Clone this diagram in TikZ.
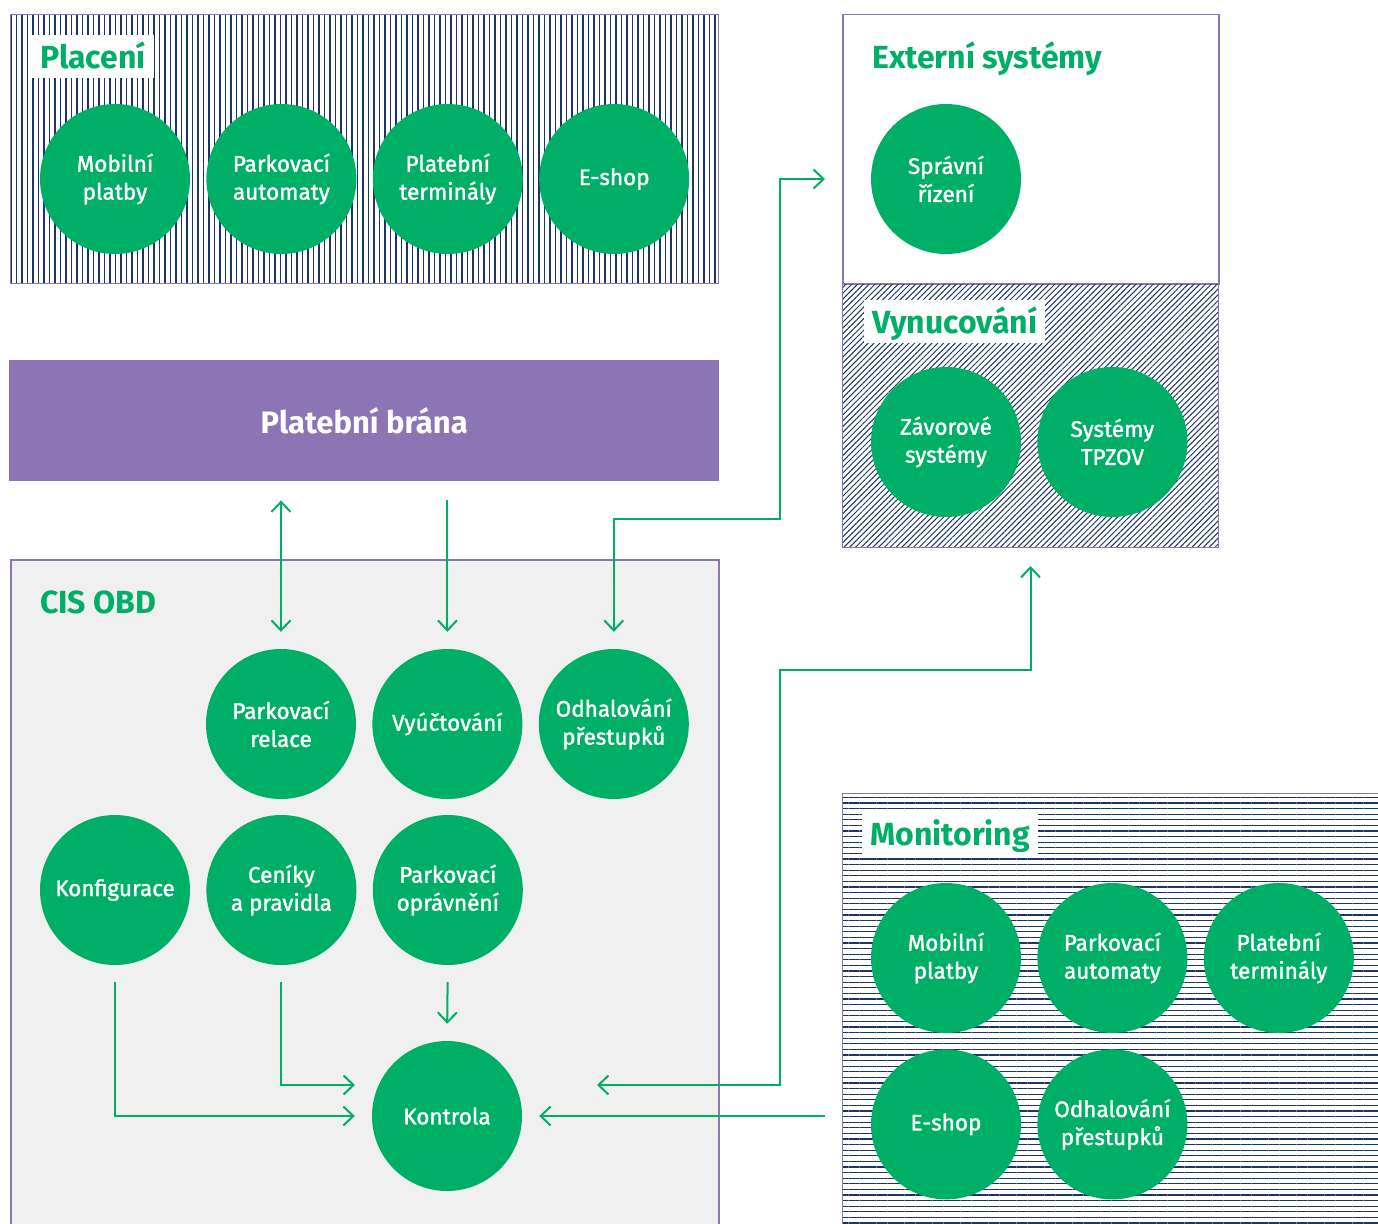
\documentclass[tikz,border=0pt]{standalone}
\usepackage{fontspec}
\setmainfont{Fira Sans}
\newfontfamily\circfont{Fira Sans}[FakeBold=1.5]
\usetikzlibrary{arrows.meta,positioning,patterns.meta}
\definecolor{obdgreen}{HTML}{00AF66}
\definecolor{obdpurple}{HTML}{8B75B5}
\definecolor{obdgray}{HTML}{F0F0F0}
\definecolor{obdnavy}{HTML}{1B3566}

\begin{document}
\begin{tikzpicture}[x=1pt,y=-1pt,>={Straight Barb[length=10pt,width=19pt]},
		circ node/.style={circle,fill=obdgreen,text=white,minimum size=150pt,inner sep=0pt,
			align=center,font=\circfont\fontsize{22.5}{28}\selectfont},
		box node/.style={rectangle,draw=obdpurple,line width=1.5pt,anchor=north west,inner sep=0pt},
		title node/.style={anchor=base west,text=obdgreen,font=\fontsize{32}{36}\selectfont\bfseries,
			inner xsep=8pt,inner ysep=2pt,text height=31pt,text depth=8pt},
		link/.style={draw=obdgreen,line width=2pt}]
	\useasboundingbox (0,0) rectangle (1378,1223);
	%
	% Boxes of the groups.
	\node[box node,minimum width=708pt,minimum height=269pt,
		pattern={Lines[angle=90,distance=5.5pt,line width=1.1pt]},pattern color=obdnavy] (100) at (10,14) {};
	\node[rectangle,fill=obdpurple,anchor=north west,inner sep=0pt,minimum width=710pt,minimum height=121pt,
		text=white,font=\fontsize{31}{36}\selectfont\bfseries] (101) at (9,360) {Platební brána};
	\node[box node,fill=obdgray,minimum width=708pt,minimum height=700pt] (102) at (10,559) {};
	\node[box node,fill=white,minimum width=376pt,minimum height=269pt] (103) at (842,14) {};
	\node[box node,minimum width=376pt,minimum height=264pt,
		pattern={Lines[angle=45,distance=4.1pt,line width=1pt]},pattern color=obdnavy] (104) at (842,283) {};
	\node[box node,minimum width=600pt,minimum height=500pt,
		pattern={Lines[angle=0,distance=5.6pt,line width=1.1pt]},pattern color=obdnavy] (105) at (842,793) {};
	%
	% Titles of the groups.
	\node[title node,fill=white] (200) at (32,68) {Placení};
	\node[title node] (201) at (32,613) {CIS OBD};
	\node[title node] (202) at (864,68) {Externí systémy};
	\node[title node,fill=white] (203) at (864,333) {Vynucování};
	\node[title node,fill=white] (204) at (862,845) {Monitoring};
	%
	% Placení.
	\node[circ node] (0) at (115,179) {Mobilní\\platby};
	\node[circ node] (1) [right =16pt of 0] {Parkovací\\automaty};
	\node[circ node] (2) [right =16pt of 1] {Platební\\terminály};
	\node[circ node] (3) [right =16pt of 2] {E-shop};
	%
	% Externí systémy and Vynucování.
	\node[circ node] (4) at (946,179) {Správní\\řízení};
	\node[circ node] (5) at (946,442) {Závorové\\systémy};
	\node[circ node] (6) [right =16pt of 5] {Systémy\\TPZOV};
	%
	% CIS OBD.
	\node[circ node] (7) at (281,724) {Parkovací\\relace};
	\node[circ node] (8) [right =16pt of 7] {Vyúčtování};
	\node[circ node] (9) [right =16pt of 8] {Odhalování\\přestupků};
	\node[circ node] (10) at (115,890) {Konfigurace};
	\node[circ node] (11) [right =16pt of 10] {Ceníky\\a pravidla};
	\node[circ node] (12) [right =16pt of 11] {Parkovací\\oprávnění};
	\node[circ node] (13) at (447,1116) {Kontrola};
	%
	% Monitoring.
	\node[circ node] (14) at (946,958) {Mobilní\\platby};
	\node[circ node] (15) [right =16pt of 14] {Parkovací\\automaty};
	\node[circ node] (16) [right =16pt of 15] {Platební\\terminály};
	\node[circ node] (17) [below =16pt of 14] {E-shop};
	\node[circ node] (18) [right =16pt of 17] {Odhalování\\přestupků};
	%
	% Free ends of the connectors.
	\coordinate (300) at (825,179);
	\coordinate (301) at (597,1085);
	\coordinate (302) at (825,1116);
	\coordinate (303) at (355,1085);
	%
	% Platební brána to CIS OBD.
	\draw[link,<->,shorten <=19pt,shorten >=17pt] (101.south -| 7) -- (7.north);
	\draw[link,->,shorten <=19pt,shorten >=17pt] (101.south -| 8) -- (8.north);
	%
	% Links to the outer systems.
	\draw[link,<->,shorten <=17pt] (9.north) |- (780,519) |- (300);
	\draw[link,<->,shorten <=18pt] (104.south) |- (780,670) |- (301);
	\draw[link,->,shorten >=17pt] (302) -- (13.east);
	%
	% Inside CIS OBD.
	\draw[link,->,shorten <=17pt] (11.south) |- (303);
	\draw[link,->,shorten <=17pt,shorten >=17pt] (10.south) |- (13.west);
	\draw[link,->,shorten <=17pt,shorten >=17pt] (12.south) -- (13.north);
\end{tikzpicture}
\end{document}
